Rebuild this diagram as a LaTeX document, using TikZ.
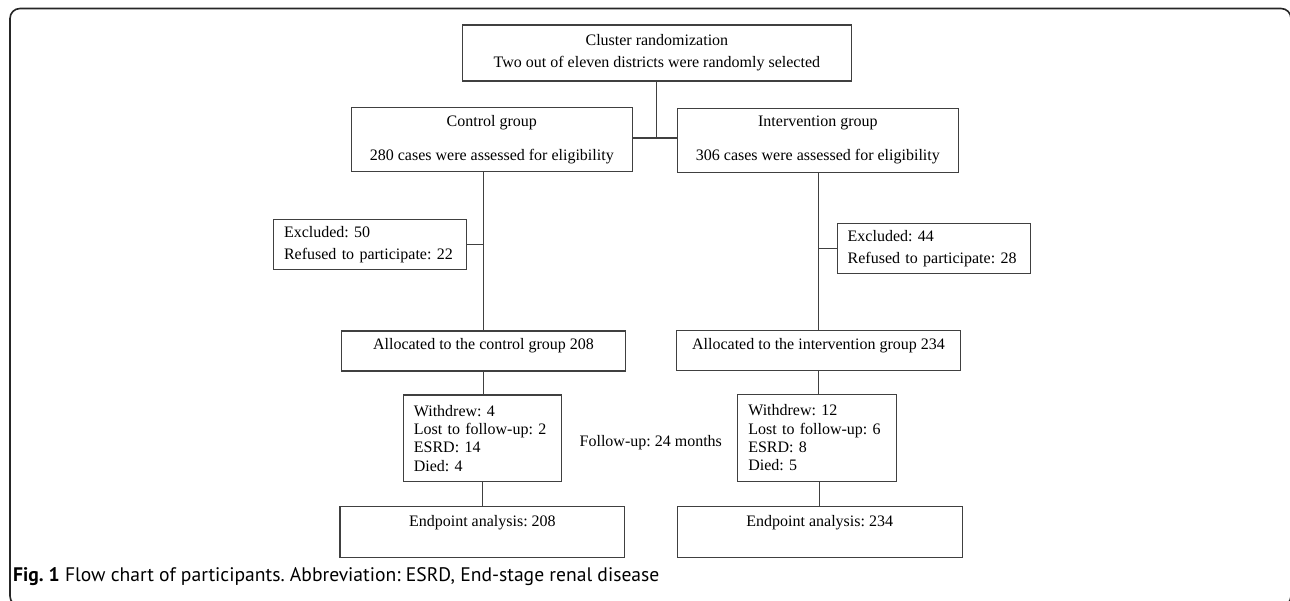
\documentclass[tikz,border=0pt]{standalone}
\usepackage{fontspec}
\setmainfont{Liberation Serif}
\newfontfamily\capfont{PT Sans}
\frenchspacing
\begin{document}
\begin{tikzpicture}[x=1pt,y=-1pt,
  box/.style={draw=black!75, line width=1.1pt, inner ysep=0pt, inner xsep=10.5pt,
    font=\fontsize{16}{18.3}\selectfont, anchor=center},
  lbox/.style={box, align=left},
  cbox/.style={box, align=center},
  conn/.style={draw=black!75, line width=1.1pt}]
\useasboundingbox (0,0) rectangle (1290,601);
\clip (0,0) rectangle (1290,601);
% outer frame
\draw[black!85, line width=1.6pt, rounded corners=10pt] (10,8.5) rectangle (1291,606);
% boxes
\node[cbox, minimum width=389pt, minimum height=56pt] (clus) at (656.9,53)
  {Cluster randomization\\[3.4pt]Two out of eleven districts were randomly selected};
\node[cbox, minimum width=281pt, minimum height=64pt] (ctrl) at (491.8,139.7)
  {Control group\\[15.7pt]280 cases were assessed for eligibility};
\node[cbox, minimum width=281pt, minimum height=64pt] (intv) at (817.9,140.3)
  {Intervention group\\[15.7pt]306 cases were assessed for eligibility};
\node[lbox, text width=172pt, minimum height=50pt] (exc1) at (370,244.3)
  {Excluded: 50\\[3.7pt]Refused to participate: 22};
\node[lbox, text width=172pt, minimum height=50pt] (exc2) at (933.7,248.3)
  {Excluded: 44\\[3.7pt]Refused to participate: 28};
\node[box, minimum width=283.6pt, text height=19pt, text depth=21pt] (all1) at (483.5,351)
  {Allocated to the control group 208};
\node[box, minimum width=283.2pt, text height=19pt, text depth=21pt] (all2) at (818.5,350.3)
  {Allocated to the intervention group 234};
\node[lbox, text width=137.5pt, minimum height=86.7pt] (wd1) at (482.6,438.3)
  {Withdrew: 4\\Lost to follow-up: 2\\ESRD: 14\\Died: 4};
\node[lbox, text width=137.8pt, minimum height=86.6pt] (wd2) at (817.2,438)
  {Withdrew: 12\\Lost to follow-up: 6\\ESRD: 8\\Died: 5};
\node[box, minimum width=284.8pt, text height=20pt, text depth=30.6pt] (end1) at (482.4,532)
  {Endpoint analysis: 208};
\node[box, minimum width=284.8pt, text height=20pt, text depth=30.6pt] (end2) at (819.7,532)
  {Endpoint analysis: 234};
\node[font=\fontsize{16}{18.3}\selectfont, inner sep=0pt] (fu) at (650.8,443) {Follow-up: 24 months};
% connectors
\coordinate (jn) at (clus.south |- 0,138);
\draw[conn] (clus.south) -- (jn);
\draw[conn] (ctrl.east |- jn) -- (intv.west |- jn);
\draw[conn] (ctrl.south -| all1.north) -- (all1.north);
\draw[conn] (exc1.east) -- (exc1.east -| all1.north);
\draw[conn] (intv.south -| all2.north) -- (all2.north);
\draw[conn] (exc2.west) -- (exc2.west -| all2.north);
\draw[conn] (all1.south) -- (all1.south |- wd1.north);
\draw[conn] (wd1.south) -- (wd1.south |- end1.north);
\draw[conn] (all2.south) -- (all2.south |- wd2.north);
\draw[conn] (wd2.south -| end2.north) -- (end2.north);
% caption
\node[anchor=base west, inner sep=0pt, font=\capfont\fontsize{19.6}{22}\selectfont] (cap) at (13,581)
  {\textbf{Fig. 1} Flow chart of participants. Abbreviation: ESRD, End-stage renal disease};
\end{tikzpicture}
\end{document}
